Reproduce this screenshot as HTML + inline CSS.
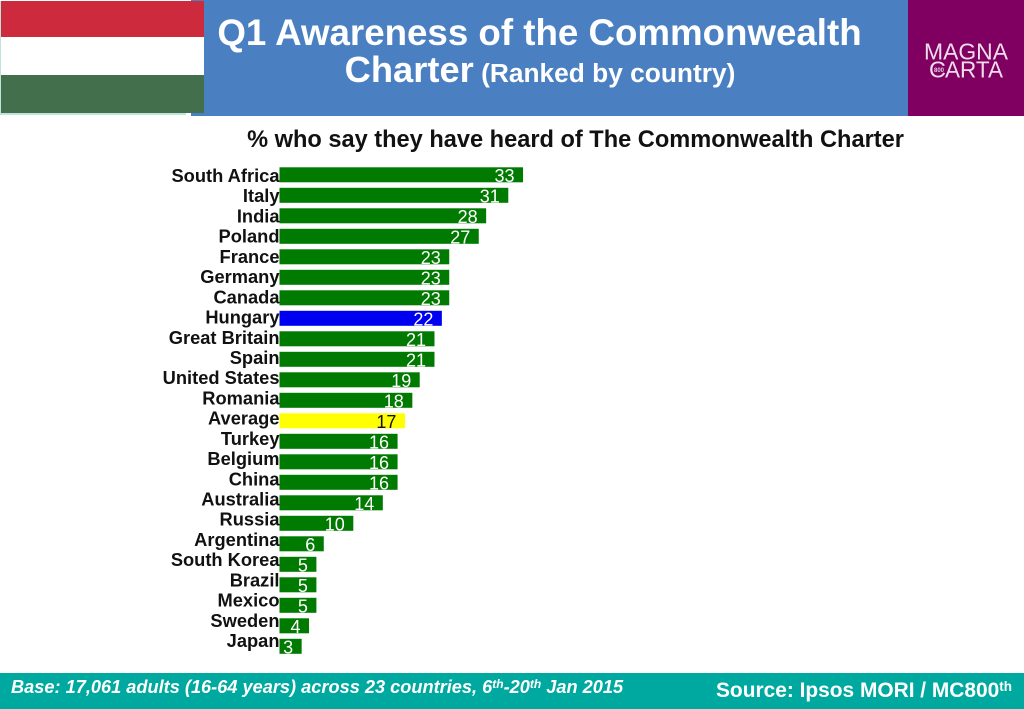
<!DOCTYPE html>
<html lang="en">
<head>
<meta charset="utf-8">
<title>Q1 Awareness of the Commonwealth Charter</title>
<style>
html,body{margin:0;padding:0;background:#fff;width:1024px;height:709px;overflow:hidden}
svg{display:block;font-family:"Liberation Sans",sans-serif}
</style>
</head>
<body>
<svg id="slide" width="1024" height="709" viewBox="0 0 1024 709" xmlns="http://www.w3.org/2000/svg">
  <g>
    <rect x="191" y="0" width="718" height="116" fill="#4a80c2"/>
    <rect x="0" y="1" width="186" height="114" fill="#bfe3da"/>
    <rect x="186" y="113" width="5" height="3" fill="#fff"/>
    <g>
      <rect x="1" y="1" width="203" height="36" fill="#cd2a3e"/>
      <rect x="1" y="37" width="203" height="38" fill="#ffffff"/>
      <rect x="1" y="75" width="203" height="38" fill="#436f4d"/>
    </g>
    <text x="539.5" y="45" text-anchor="middle" font-size="36.7" font-weight="700" fill="#fff">Q1 Awareness of the Commonwealth</text>
    <text x="540" y="82" text-anchor="middle" font-weight="700" fill="#fff"><tspan font-size="36.3">Charter</tspan><tspan font-size="26.3"> (Ranked by country)</tspan></text>
    <g>
      <rect x="908" y="0" width="116" height="116" fill="#7f0060"/>
      <text x="924" y="59.5" font-size="23.5" fill="#f0dcea" textLength="84" lengthAdjust="spacingAndGlyphs">MAGNA</text>
      <text x="929" y="77.5" font-size="23.5" fill="#f0dcea">C</text>
      <text x="934" y="72" font-size="6" font-weight="700" fill="#e8c8de">800</text>
      <text x="945" y="77.5" font-size="23.5" fill="#f0dcea" textLength="58" lengthAdjust="spacingAndGlyphs">ARTA</text>
    </g>
  </g>
  <text x="575.5" y="147" text-anchor="middle" font-size="23.6" font-weight="700" fill="#111">% who say they have heard of The Commonwealth Charter</text>
  <g id="chart"></g>
  <g>
    <rect x="0" y="673" width="1024" height="36" fill="#00a9a0"/>
    <text x="11" y="693" font-size="18.2" font-weight="700" font-style="italic" fill="#fff">Base: 17,061 adults (16-64 years) across 23 countries, 6<tspan font-size="12" dy="-5">th</tspan><tspan dy="5">-20</tspan><tspan font-size="12" dy="-5">th</tspan><tspan dy="5"> Jan 2015</tspan></text>
    <text x="716" y="697" font-size="20.9" font-weight="700" fill="#fff">Source: Ipsos MORI / MC800<tspan font-size="13.5" dy="-6">th</tspan></text>
  </g>
</svg>
<script>
const categories = ["South Africa","Italy","India","Poland","France","Germany","Canada","Hungary","Great Britain","Spain","United States","Romania","Average","Turkey","Belgium","China","Australia","Russia","Argentina","South Korea","Brazil","Mexico","Sweden","Japan"];
const values = [33,31,28,27,23,23,23,22,21,21,19,18,17,16,16,16,14,10,6,5,5,5,4,3];
const highlights = {"Hungary":"#0000f0","Average":"#ffff00"};

const NS = "http://www.w3.org/2000/svg";
const chart = document.getElementById("chart");
const xAxis = v => 279.5 + v * 7.38;
const yAxis = i => 167.3 + i * 20.5;
const labelAxis = i => 182 + i * 20.22;

function slug(s){ return s.toLowerCase().replace(/\s+/g, "-"); }

categories.forEach((name, i) => {
  const v = values[i];

  const label = document.createElementNS(NS, "text");
  label.setAttribute("x", 279.5);
  label.setAttribute("y", labelAxis(i));
  label.setAttribute("text-anchor", "end");
  label.setAttribute("font-size", "18.3");
  label.setAttribute("font-weight", "700");
  label.setAttribute("fill", "#111");
  
  
  label.textContent = name;
  chart.appendChild(label);

  const bar = document.createElementNS(NS, "rect");
  bar.setAttribute("x", xAxis(0));
  bar.setAttribute("y", yAxis(i));
  bar.setAttribute("width", xAxis(v) - xAxis(0));
  bar.setAttribute("height", 15);
  bar.setAttribute("fill", highlights[name] || "#007a00");
  
  
  bar.setAttribute("data-category", slug(name));
  chart.appendChild(bar);

  const val = document.createElementNS(NS, "text");
  val.setAttribute("x", xAxis(v) - 8.5);
  val.setAttribute("y", yAxis(i) + 14.5);
  val.setAttribute("text-anchor", "end");
  val.setAttribute("font-size", "18");
  val.setAttribute("fill", name === "Average" ? "#111" : "#fff");
  
  
  val.textContent = v;
  chart.appendChild(val);
});
</script>
</body>
</html>
